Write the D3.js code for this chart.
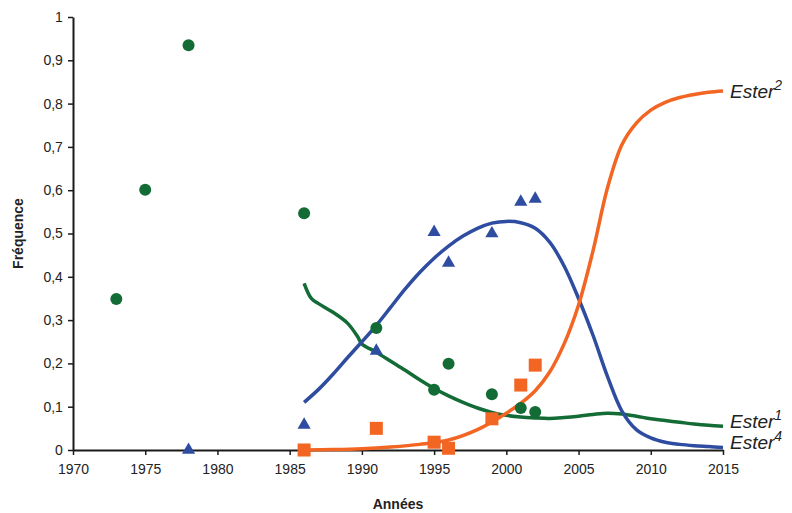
<!DOCTYPE html>
<html>
<head>
<meta charset="utf-8">
<script src="https://cdn.jsdelivr.net/npm/d3@7"></script>
<style>
  body { margin: 0; background: #fff; }
  text { font-family: "Liberation Sans", Arial, sans-serif; }
</style>
</head>
<body>
<div id="chart"></div>
<script>
// observed frequencies
const ester1Obs = [
  [1973, 0.349], [1975, 0.601], [1978, 0.935], [1986, 0.547], [1991, 0.282],
  [1995, 0.139], [1996, 0.199], [1999, 0.129], [2001, 0.097], [2002, 0.088]
];
const ester4Obs = [
  [1978, 0.0], [1986, 0.058], [1991, 0.229], [1995, 0.503], [1996, 0.432],
  [1999, 0.50], [2001, 0.573], [2002, 0.58]
];
const ester2Obs = [
  [1986, 0.0], [1991, 0.05], [1995, 0.018], [1996, 0.004], [1999, 0.072],
  [2001, 0.15], [2002, 0.196]
];

// fitted curves
const ester1Fit = [
  [1986, 0.385], [1986.5, 0.35], [1987, 0.338], [1988, 0.318], [1989, 0.293],
  [1989.7, 0.262], [1990, 0.245], [1991, 0.226], [1992, 0.205], [1993, 0.184],
  [1994, 0.162], [1995, 0.142], [1996, 0.125], [1997, 0.11], [1998, 0.097],
  [1999, 0.087], [2000, 0.08], [2001, 0.076], [2002, 0.074], [2003, 0.073],
  [2004, 0.075], [2005, 0.078], [2006, 0.082], [2007, 0.085], [2008, 0.083],
  [2009, 0.078], [2010, 0.072], [2011, 0.068], [2012, 0.064], [2013, 0.06],
  [2014, 0.057], [2015, 0.055]
];
const ester4Fit = [
  [1986, 0.11], [1987, 0.14], [1988, 0.175], [1989, 0.213], [1990, 0.25],
  [1991, 0.288], [1992, 0.33], [1993, 0.372], [1994, 0.41], [1995, 0.443],
  [1996, 0.471], [1997, 0.494], [1998, 0.512], [1999, 0.524], [2000, 0.528],
  [2001, 0.525], [2002, 0.512], [2003, 0.48], [2004, 0.425], [2005, 0.35],
  [2006, 0.265], [2007, 0.17], [2008, 0.09], [2009, 0.047], [2010, 0.028],
  [2011, 0.018], [2012, 0.013], [2013, 0.01], [2014, 0.008], [2015, 0.006]
];
const ester2Fit = [
  [1986, 0.0], [1988, 0.001], [1990, 0.003], [1992, 0.007], [1994, 0.013],
  [1996, 0.023], [1998, 0.047], [2000, 0.085], [2001, 0.108], [2002, 0.137],
  [2003, 0.18], [2004, 0.245], [2005, 0.335], [2006, 0.46], [2007, 0.605],
  [2008, 0.705], [2009, 0.755], [2010, 0.785], [2011, 0.803], [2012, 0.814],
  [2013, 0.821], [2014, 0.826], [2015, 0.829]
];

const xTicks = [1970, 1975, 1980, 1985, 1990, 1995, 2000, 2005, 2010, 2015];
const yTicks = [0, 0.1, 0.2, 0.3, 0.4, 0.5, 0.6, 0.7, 0.8, 0.9, 1];

const green = "#136b35", blue = "#2f4da0", orange = "#f26522";

const width = 792, height = 513;
const margin = { left: 73, right: 69, top: 17, bottom: 63 };

const svg = d3.select("#chart").append("svg")
  .attr("width", width).attr("height", height);

const x = d3.scaleLinear().domain([1970, 2015]).range([margin.left, width - margin.right]);
const y = d3.scaleLinear().domain([0, 1]).range([height - margin.bottom, margin.top]);

const fmt = d => d === 0 ? "0" : d === 1 ? "1" : d3.format(".1f")(d).replace(".", ",");

// axes
const xAxis = svg.append("g")
  .attr("transform", "translate(0," + y(0) + ")")
  .call(d3.axisBottom(x).tickValues(xTicks).tickFormat(d3.format("d")).tickSize(5).tickSizeOuter(0));
const yAxis = svg.append("g")
  .attr("transform", "translate(" + x(1970) + ",0)")
  .call(d3.axisLeft(y).tickValues(yTicks).tickFormat(fmt).tickSize(5).tickSizeOuter(0));

[xAxis, yAxis].forEach(g => {
  g.select(".domain").attr("stroke", "#1a1a1a").attr("stroke-width", 2);
  g.selectAll(".tick line").attr("stroke", "#1a1a1a").attr("stroke-width", 1.5);
  g.selectAll(".tick text").attr("fill", "#222").style("font-size", "14px")
    .style("font-family", "'Liberation Sans', Arial, sans-serif");
});
xAxis.selectAll(".tick text").attr("dy", "1.15em");
yAxis.selectAll(".tick text").attr("dx", "-0.15em");

// axis titles
svg.append("text")
  .attr("x", x(1992.5)).attr("y", 509)
  .attr("text-anchor", "middle")
  .style("font-size", "14px").style("font-weight", "bold").attr("fill", "#222")
  .text("Années");
svg.append("text")
  .attr("transform", "translate(23," + y(0.5) + ") rotate(-90)")
  .attr("text-anchor", "middle")
  .style("font-size", "14px").style("font-weight", "bold").attr("fill", "#222")
  .text("Fréquence");

// fitted curves
const line = d3.line().x(d => x(d[0])).y(d => y(d[1])).curve(d3.curveCatmullRom.alpha(0.5));
[[ester1Fit, green], [ester4Fit, blue], [ester2Fit, orange]].forEach(([data, col]) => {
  svg.append("path").datum(data)
    .attr("d", line)
    .attr("fill", "none")
    .attr("stroke", col)
    .attr("stroke-width", 3.5);
});

// markers
svg.append("g").selectAll("circle").data(ester1Obs).join("circle")
  .attr("cx", d => x(d[0])).attr("cy", d => y(d[1]))
  .attr("r", 6).attr("fill", green);

svg.append("g").selectAll("path").data(ester4Obs).join("path")
  .attr("transform", d => "translate(" + x(d[0]) + "," + y(d[1]) + ")")
  .attr("d", d3.symbol(d3.symbolTriangle, 75))
  .attr("fill", blue);

svg.append("g").selectAll("rect").data(ester2Obs).join("rect")
  .attr("x", d => x(d[0]) - 6.5).attr("y", d => y(d[1]) - 6.5)
  .attr("width", 13).attr("height", 13).attr("fill", orange);

// curve labels
const labels = [
  { name: "Ester", sup: "2", v: 0.829, dy: 7 },
  { name: "Ester", sup: "1", v: 0.055, dy: 2 },
  { name: "Ester", sup: "4", v: 0.006, dy: 2 }
];
labels.forEach(l => {
  const t = svg.append("text")
    .attr("x", x(2015) + 7)
    .attr("y", y(l.v) + l.dy)
    .attr("fill", "#222")
    .style("font-size", "19px").style("font-style", "italic");
  t.append("tspan").text(l.name);
  t.append("tspan").attr("dy", -8).style("font-size", "14px").text(l.sup);
});
</script>
</body>
</html>
